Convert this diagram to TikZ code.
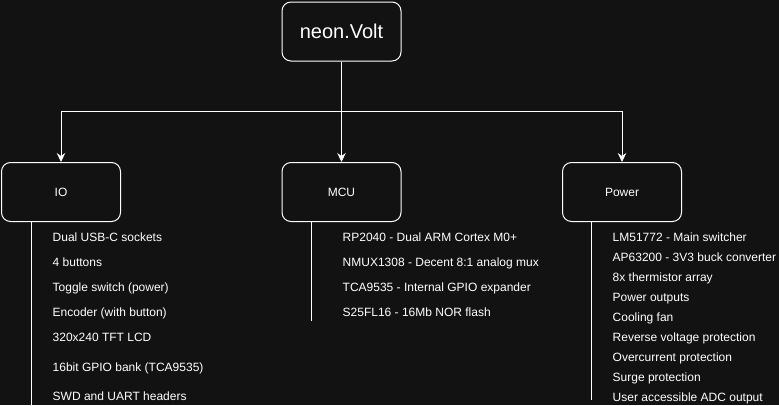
\documentclass[tikz,border=0pt]{standalone}
\usepackage{fontspec}
\setmainfont{Liberation Sans}
\usepackage{tikz}
\usetikzlibrary{positioning, arrows.meta, calc}
\definecolor{canvas}{HTML}{121212}
\tikzset{
    block/.style={draw=white, line width=1pt, rounded corners=9pt, minimum width=119pt, minimum height=59pt, inner sep=0pt, text=white, font=\fontsize{12}{14}\selectfont},
    title/.append style={font=\fontsize{20}{24}\selectfont},
    item/.style={anchor=base west, inner sep=0pt, text=white, font=\fontsize{12}{14}\selectfont},
    link/.style={draw=white, line width=1pt, -{Stealth[length=9pt, width=8.5pt, inset=3pt]}},
    stem/.style={draw=white, line width=1pt},
}

\begin{document}
\begin{tikzpicture}[x=1pt, y=-1pt]
    \fill[canvas] (0,0) rectangle (779,405);
    \useasboundingbox (0,0) rectangle (779,405);

    \node[block, title] (root) at (341.5,31.5) {neon.Volt};
    \node[block, below=100.5pt of root] (mcu) {MCU};
    \node[block, left=160.5pt of mcu] (io) {IO};
    \node[block, right=160.5pt of mcu] (power) {Power};

    \coordinate (split) at (341.5,111.5);
    \draw[link] (root.south) -- (mcu.north);
    \draw[link] (split) -| (io.north);
    \draw[link] (split) -| (power.north);

    % feature lists
    \foreach \y/\txt [count=\i] in {241/Dual USB-C sockets, 266/4 buttons, 291/Toggle switch (power), 316/Encoder (with button), 341/320x240 TFT LCD, 371/16bit GPIO bank (TCA9535), 400.5/SWD and UART headers}
        \node[item] (io\i) at (52.5,\y) {\txt};

    \foreach \txt [count=\i] in {RP2040 - Dual ARM Cortex M0+, NMUX1308 - Decent 8:1 analog mux, TCA9535 - Internal GPIO expander, S25FL16 - 16Mb NOR flash}
        \node[item] (mcu\i) at (342.5,216+25*\i) {\txt};

    \foreach \txt [count=\i] in {LM51772 - Main switcher, AP63200 - 3V3 buck converter, 8x thermistor array, Power outputs, Cooling fan, Reverse voltage protection, Overcurrent protection, Surge protection, User accessible ADC output}
        \node[item] (power\i) at (612.5,221+20*\i) {\txt};

    \coordinate (ioend) at (31.7,405);
    \coordinate (mcuend) at (311.7,321);
    \coordinate (powerend) at (591.7,400);
    \draw[stem] (io.south -| ioend) -- (ioend);
    \draw[stem] (mcu.south -| mcuend) -- (mcuend);
    \draw[stem] (power.south -| powerend) -- (powerend);
\end{tikzpicture}
\end{document}
